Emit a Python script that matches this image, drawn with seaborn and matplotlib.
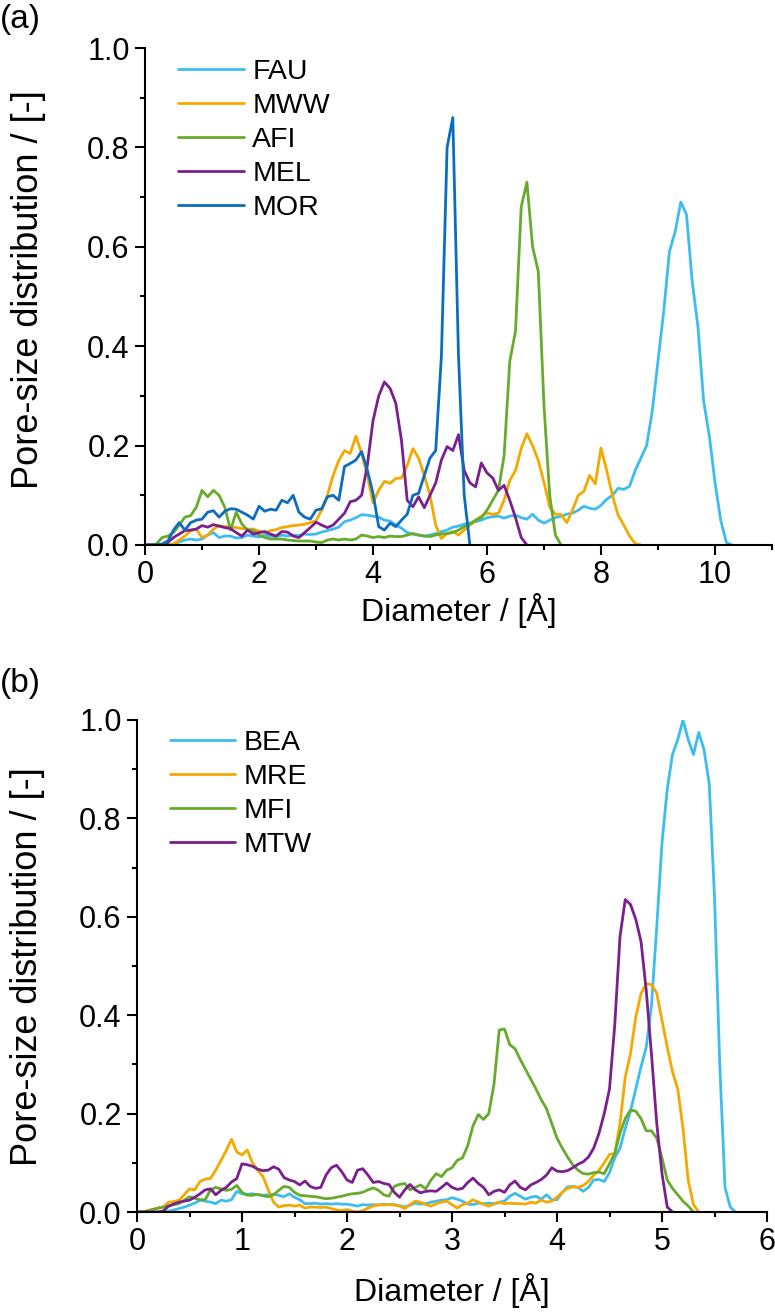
import numpy as np
import pandas as pd
import matplotlib
matplotlib.use('Agg')
import matplotlib.pyplot as plt
from matplotlib.ticker import MultipleLocator
import seaborn as sns

# ---- panel (a): diameter grid, step 0.1 A ----
diam_a = np.round(np.arange(0, 10.31, 0.1), 2)

fau = [0, 0, 0, 0, 0, 0.002, 0.006, 0.010, 0.012, 0.010,
       0.012, 0.020, 0.025, 0.015, 0.018, 0.018, 0.014, 0.015, 0.020, 0.018,
       0.016, 0.020, 0.018, 0.017, 0.020, 0.018, 0.020, 0.019, 0.022, 0.021,
       0.022, 0.026, 0.029, 0.032, 0.036, 0.047, 0.050, 0.055, 0.061, 0.060,
       0.058, 0.056, 0.050, 0.048, 0.040, 0.034, 0.025, 0.022, 0.020, 0.018,
       0.020, 0.023, 0.027, 0.030, 0.036, 0.038, 0.042, 0.044, 0.047, 0.050,
       0.055, 0.057, 0.058, 0.054, 0.058, 0.060, 0.055, 0.052, 0.062, 0.050,
       0.044, 0.050, 0.055, 0.058, 0.062, 0.064, 0.070, 0.078, 0.074, 0.072,
       0.080, 0.092, 0.100, 0.114, 0.112, 0.118, 0.150, 0.175, 0.200, 0.270,
       0.370, 0.470, 0.590, 0.630, 0.690, 0.665, 0.530, 0.440, 0.290, 0.220,
       0.126, 0.050, 0.005, 0]
mww = [0, 0, 0, 0, 0, 0.002, 0.010, 0.018, 0.029, 0.032,
       0.015, 0.020, 0.032, 0.039, 0.037, 0.037, 0.035, 0.033, 0.032, 0.032,
       0.028, 0.025, 0.029, 0.031, 0.035, 0.037, 0.039, 0.040, 0.042, 0.045,
       0.049, 0.070, 0.100, 0.140, 0.170, 0.190, 0.184, 0.219, 0.184, 0.140,
       0.085, 0.110, 0.128, 0.124, 0.134, 0.135, 0.160, 0.194, 0.175, 0.140,
       0.100, 0.040, 0.013, 0.023, 0.027, 0.020, 0.030, 0.040, 0.050, 0.058,
       0.064, 0.062, 0.064, 0.090, 0.130, 0.150, 0.194, 0.224, 0.200, 0.170,
       0.126, 0.076, 0.062, 0.061, 0.045, 0.070, 0.100, 0.108, 0.140, 0.123,
       0.195, 0.150, 0.100, 0.060, 0.040, 0.018, 0.003, 0]
afi = [0, 0, 0.002, 0.015, 0.018, 0.025, 0.040, 0.056, 0.059, 0.076,
       0.110, 0.097, 0.110, 0.100, 0.076, 0.030, 0.066, 0.042, 0.030, 0.029,
       0.020, 0.015, 0.012, 0.012, 0.012, 0.010, 0.009, 0.008, 0.008, 0.008,
       0.006, 0.005, 0.010, 0.012, 0.010, 0.012, 0.010, 0.012, 0.020, 0.018,
       0.015, 0.017, 0.015, 0.018, 0.017, 0.017, 0.020, 0.023, 0.020, 0.018,
       0.017, 0.020, 0.022, 0.023, 0.025, 0.030, 0.037, 0.042, 0.050, 0.055,
       0.070, 0.090, 0.110, 0.180, 0.370, 0.430, 0.680, 0.730, 0.600, 0.550,
       0.280, 0.100, 0.020, 0]
mel = [0, 0, 0, 0, 0.005, 0.015, 0.022, 0.029, 0.030, 0.032,
       0.039, 0.036, 0.041, 0.038, 0.035, 0.033, 0.025, 0.018, 0.030, 0.022,
       0.025, 0.027, 0.022, 0.018, 0.027, 0.026, 0.018, 0.015, 0.025, 0.035,
       0.046, 0.040, 0.035, 0.040, 0.052, 0.064, 0.087, 0.090, 0.100, 0.160,
       0.250, 0.300, 0.328, 0.315, 0.285, 0.210, 0.090, 0.077, 0.097, 0.075,
       0.100, 0.125, 0.171, 0.198, 0.190, 0.222, 0.150, 0.125, 0.117, 0.165,
       0.145, 0.135, 0.110, 0.120, 0.090, 0.055, 0.015, 0]
mor = [0, 0, 0, 0.002, 0.008, 0.030, 0.045, 0.030, 0.045, 0.050,
       0.052, 0.066, 0.069, 0.056, 0.068, 0.073, 0.072, 0.066, 0.060, 0.052,
       0.078, 0.068, 0.072, 0.070, 0.090, 0.085, 0.100, 0.066, 0.056, 0.052,
       0.070, 0.073, 0.097, 0.100, 0.090, 0.158, 0.164, 0.171, 0.188, 0.151,
       0.104, 0.037, 0.030, 0.044, 0.037, 0.050, 0.062, 0.100, 0.104, 0.140,
       0.175, 0.190, 0.380, 0.800, 0.860, 0.380, 0.100, 0]

# ---- panel (b): diameter grid, step 0.05 A ----
diam_b = np.round(np.arange(0, 5.71, 0.05), 2)

bea = [0, 0, 0, 0, 0, 0, 0.002, 0.004, 0.007, 0.010,
       0.014, 0.018, 0.024, 0.022, 0.020, 0.017, 0.024, 0.022, 0.025, 0.042,
       0.037, 0.036, 0.037, 0.035, 0.034, 0.035, 0.036, 0.034, 0.031, 0.037,
       0.030, 0.025, 0.017, 0.017, 0.018, 0.016, 0.017, 0.016, 0.017, 0.016,
       0.016, 0.014, 0.012, 0.015, 0.014, 0.015, 0.014, 0.016, 0.015, 0.015,
       0.013, 0.010, 0.014, 0.018, 0.016, 0.017, 0.020, 0.022, 0.024, 0.025,
       0.029, 0.026, 0.022, 0.016, 0.015, 0.018, 0.017, 0.018, 0.017, 0.020,
       0.022, 0.032, 0.038, 0.032, 0.026, 0.030, 0.032, 0.026, 0.035, 0.025,
       0.025, 0.040, 0.051, 0.052, 0.050, 0.042, 0.050, 0.065, 0.066, 0.062,
       0.080, 0.110, 0.130, 0.170, 0.205, 0.250, 0.295, 0.335, 0.420, 0.580,
       0.750, 0.860, 0.930, 0.960, 1.000, 0.960, 0.930, 0.975, 0.940, 0.870,
       0.640, 0.300, 0.050, 0.010, 0]
mre = [0, 0, 0.003, 0.005, 0.008, 0.010, 0.020, 0.021, 0.024, 0.035,
       0.047, 0.045, 0.062, 0.067, 0.068, 0.085, 0.105, 0.125, 0.148, 0.122,
       0.116, 0.126, 0.100, 0.085, 0.072, 0.045, 0.020, 0.010, 0.013, 0.014,
       0.012, 0.014, 0.008, 0.010, 0.010, 0.009, 0.010, 0.007, 0.004, 0.003,
       0.005, 0.002, 0.000, 0.003, 0.008, 0.012, 0.015, 0.014, 0.015, 0.014,
       0.012, 0.007, 0.015, 0.022, 0.020, 0.015, 0.012, 0.017, 0.020, 0.022,
       0.015, 0.008, 0.015, 0.018, 0.025, 0.020, 0.016, 0.012, 0.016, 0.020,
       0.017, 0.018, 0.017, 0.017, 0.016, 0.020, 0.018, 0.024, 0.020, 0.022,
       0.030, 0.040, 0.048, 0.051, 0.050, 0.054, 0.062, 0.075, 0.085, 0.100,
       0.117, 0.119, 0.180, 0.274, 0.322, 0.396, 0.444, 0.464, 0.462, 0.445,
       0.390, 0.335, 0.285, 0.250, 0.170, 0.064, 0.015, 0]
mfi = [0, 0, 0.002, 0.005, 0.008, 0.010, 0.012, 0.015, 0.017, 0.024,
       0.031, 0.028, 0.025, 0.025, 0.045, 0.050, 0.047, 0.044, 0.046, 0.054,
       0.040, 0.034, 0.034, 0.036, 0.033, 0.031, 0.035, 0.044, 0.052, 0.050,
       0.040, 0.034, 0.033, 0.032, 0.031, 0.029, 0.027, 0.028, 0.030, 0.032,
       0.035, 0.037, 0.038, 0.040, 0.045, 0.049, 0.044, 0.035, 0.032, 0.052,
       0.056, 0.058, 0.045, 0.050, 0.055, 0.047, 0.065, 0.078, 0.072, 0.085,
       0.090, 0.105, 0.110, 0.135, 0.175, 0.198, 0.188, 0.200, 0.260, 0.370,
       0.372, 0.340, 0.332, 0.310, 0.290, 0.270, 0.250, 0.228, 0.210, 0.180,
       0.150, 0.130, 0.112, 0.096, 0.085, 0.078, 0.077, 0.080, 0.081, 0.078,
       0.098, 0.119, 0.160, 0.190, 0.207, 0.205, 0.190, 0.165, 0.165, 0.150,
       0.110, 0.065, 0.048, 0.035, 0.022, 0.012, 0]
mtw = [0, 0, 0, 0, 0, 0.002, 0.012, 0.016, 0.020, 0.022,
       0.024, 0.030, 0.037, 0.045, 0.047, 0.035, 0.044, 0.050, 0.061, 0.068,
       0.098, 0.096, 0.093, 0.087, 0.084, 0.085, 0.092, 0.087, 0.070, 0.065,
       0.062, 0.055, 0.063, 0.052, 0.048, 0.050, 0.075, 0.090, 0.095, 0.082,
       0.065, 0.060, 0.085, 0.088, 0.075, 0.060, 0.062, 0.058, 0.056, 0.040,
       0.030, 0.045, 0.056, 0.045, 0.039, 0.042, 0.043, 0.042, 0.050, 0.059,
       0.050, 0.046, 0.048, 0.060, 0.069, 0.058, 0.050, 0.035, 0.042, 0.045,
       0.040, 0.055, 0.063, 0.050, 0.045, 0.055, 0.060, 0.066, 0.075, 0.090,
       0.083, 0.082, 0.084, 0.090, 0.097, 0.102, 0.112, 0.130, 0.160, 0.200,
       0.250, 0.380, 0.560, 0.635, 0.625, 0.595, 0.550, 0.450, 0.320, 0.180,
       0.078, 0.010, 0]

LBLUE, ORANGE, GREEN, PURPLE, DBLUE = '#3dbdef', '#f4a900', '#68ab2c', '#7b1f8e', '#0b6dbd'

series_a = {'FAU': fau, 'MWW': mww, 'AFI': afi, 'MEL': mel, 'MOR': mor}
pal_a = {'FAU': LBLUE, 'MWW': ORANGE, 'AFI': GREEN, 'MEL': PURPLE, 'MOR': DBLUE}
series_b = {'BEA': bea, 'MRE': mre, 'MFI': mfi, 'MTW': mtw}
pal_b = {'BEA': LBLUE, 'MRE': ORANGE, 'MFI': GREEN, 'MTW': PURPLE}


def long_df(diam, series):
    frames = []
    for name, vals in series.items():
        frames.append(pd.DataFrame({'Diameter': diam[:len(vals)], 'PSD': vals, 'Zeolite': name}))
    return pd.concat(frames, ignore_index=True)


sns.set_theme(style='ticks', rc={'axes.edgecolor': 'black', 'xtick.color': 'black',
                                 'ytick.color': 'black', 'text.color': 'black',
                                 'axes.labelcolor': 'black'})
plt.rcParams['font.family'] = ['Liberation Sans', 'DejaVu Sans']

fig = plt.figure(figsize=(7.75, 13.15), dpi=100)
ax_a = fig.add_axes([145 / 775, 1 - 545 / 1315, 627 / 775, 497 / 1315])
ax_b = fig.add_axes([137 / 775, 1 - 1212 / 1315, 630 / 775, 492 / 1315])


def draw(ax, df, pal, xmax, xmaj, xmin, legend_xy, xlab_y, ylab_xy):
    sns.lineplot(data=df, x='Diameter', y='PSD', hue='Zeolite', palette=pal,
                 linewidth=2, errorbar=None, ax=ax)
    sns.move_legend(ax, 'upper left', bbox_to_anchor=legend_xy, frameon=False, title=None,
                    fontsize=20.5, handlelength=2.3, handletextpad=0.3, labelspacing=0.28,
                    borderaxespad=0, borderpad=0)
    ax.set_xlim(0, xmax)
    ax.set_ylim(0, 1.0)
    ax.xaxis.set_major_locator(MultipleLocator(xmaj))
    ax.xaxis.set_minor_locator(MultipleLocator(xmin))
    ax.yaxis.set_major_locator(MultipleLocator(0.2))
    ax.yaxis.set_minor_locator(MultipleLocator(0.1))
    ax.yaxis.set_major_formatter('{x:.1f}')
    ax.tick_params(which='major', length=7, width=1.5, labelsize=22, pad=4, direction='out')
    ax.tick_params(which='minor', length=3.5, width=1.5, direction='out')
    sns.despine(ax=ax)
    for s in ['left', 'bottom']:
        ax.spines[s].set_linewidth(1.5)
    ax.set_xlabel('Diameter / [Å]', fontsize=23, va='baseline')
    ax.set_ylabel('Pore-size distribution / [-]', fontsize=26, va='center')
    ax.xaxis.set_label_coords(0.5, xlab_y)
    ax.yaxis.set_label_coords(*ylab_xy)


draw(ax_a, long_df(diam_a, series_a), pal_a, 11, 2, 1, (0.053, 0.978), -0.153, (-0.1866, 0.513))
draw(ax_b, long_df(diam_b, series_b), pal_b, 6, 1, 0.5, (0.052, 0.98), -0.18, (-0.174, 0.498))

fig.text(0.0, 1 - 4 / 1315, '(a)', ha='left', va='top', fontsize=24)
fig.text(0.0, 1 - 668 / 1315, '(b)', ha='left', va='top', fontsize=24)

fig.savefig('out.png', dpi=100)
